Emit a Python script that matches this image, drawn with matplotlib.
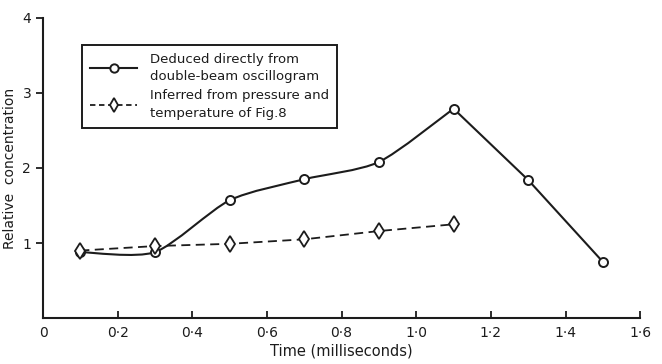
import matplotlib
matplotlib.use("Agg")
import matplotlib.pyplot as plt
from matplotlib.path import Path
from matplotlib.patches import PathPatch
from matplotlib.lines import Line2D

# time (ms) and relative concentration
t_direct = [0.1, 0.3, 0.5, 0.7, 0.9, 1.1, 1.3, 1.5]
c_direct = [0.88, 0.88, 1.57, 1.85, 2.08, 2.79, 1.84, 0.75]

t_inferred = [0.1, 0.3, 0.5, 0.7, 0.9, 1.1]
c_inferred = [0.90, 0.96, 0.99, 1.05, 1.16, 1.25]

x_ticks = [0, 0.2, 0.4, 0.6, 0.8, 1.0, 1.2, 1.4, 1.6]
x_labels = ['0', '0·2', '0·4', '0·6', '0·8', '1·0', '1·2', '1·4', '1·6']
y_ticks = [1, 2, 3, 4]

ink = '#1c1c1c'
plt.rcParams['font.family'] = ['DejaVu Sans']

fig = plt.figure(figsize=(6.62, 3.64), dpi=100)
ax = fig.add_axes([0.065, 0.126, 0.902, 0.825])


def smooth_path(xs, ys, n_smooth, k=8.0):
    # Catmull-Rom style bezier through the first n_smooth points,
    # straight segments for the rest (as drawn in the original)
    pts = list(zip(xs, ys))
    verts = [pts[0]]
    codes = [Path.MOVETO]
    for i in range(n_smooth - 1):
        p0 = pts[max(i - 1, 0)]
        p1 = pts[i]
        p2 = pts[i + 1]
        p3 = pts[min(i + 2, n_smooth - 1)]
        c1 = (p1[0] + (p2[0] - p0[0]) / k, p1[1] + (p2[1] - p0[1]) / k)
        c2 = (p2[0] - (p3[0] - p1[0]) / k, p2[1] - (p3[1] - p1[1]) / k)
        verts += [c1, c2, p2]
        codes += [Path.CURVE4] * 3
    for p in pts[n_smooth:]:
        verts.append(p)
        codes.append(Path.LINETO)
    return Path(verts, codes)


ax.add_patch(PathPatch(smooth_path(t_direct, c_direct, 6), fill=False,
                       edgecolor=ink, lw=1.5, zorder=2))
ax.plot(t_direct, c_direct, ls='none', marker='o', ms=6.5, mfc='white',
        mec=ink, mew=1.4, zorder=3)
ax.plot(t_inferred, c_inferred, ls=(0, (5, 3)), color=ink, lw=1.3,
        marker='d', ms=8, mfc='white', mec=ink, mew=1.3, zorder=3)

ax.set_xlim(0, 1.6)
ax.set_ylim(0, 4)
ax.set_xticks(x_ticks)
ax.set_xticklabels(x_labels)
ax.set_yticks(y_ticks)
ax.spines['top'].set_visible(False)
ax.spines['right'].set_visible(False)
for s in ['left', 'bottom']:
    ax.spines[s].set_linewidth(1.5)
    ax.spines[s].set_color(ink)
ax.tick_params(axis='x', direction='in', length=5, width=1.3, colors=ink,
               labelsize=10, pad=6)
ax.tick_params(axis='y', direction='out', length=5, width=1.3, colors=ink,
               labelsize=10)
ax.set_xlabel('Time (milliseconds)', fontsize=10.5, color=ink, labelpad=2)
ax.set_ylabel('Relative  concentration', fontsize=10, color=ink, labelpad=4)

handles = [
    Line2D([], [], color=ink, lw=1.5, marker='o', ms=6, mfc='white',
           mec=ink, mew=1.4, ls='-'),
    Line2D([], [], color=ink, lw=1.3, ls=(0, (3, 2)), marker='d', ms=7,
           mfc='white', mec=ink, mew=1.3),
]
labels = ['Deduced directly from\ndouble-beam oscillogram',
          'Inferred from pressure and\ntemperature of Fig.8']
leg = ax.legend(handles, labels, loc='upper left',
                bbox_to_anchor=(0.065, 0.91), fontsize=9.5, frameon=True,
                fancybox=False, edgecolor=ink, framealpha=1,
                handlelength=3.6, handletextpad=1.0, labelspacing=0.45,
                borderpad=0.6, borderaxespad=0)
leg.get_frame().set_linewidth(1.4)
for txt in leg.get_texts():
    txt.set_color(ink)
    txt.set_linespacing(1.45)

fig.savefig('out.png', dpi=100)
